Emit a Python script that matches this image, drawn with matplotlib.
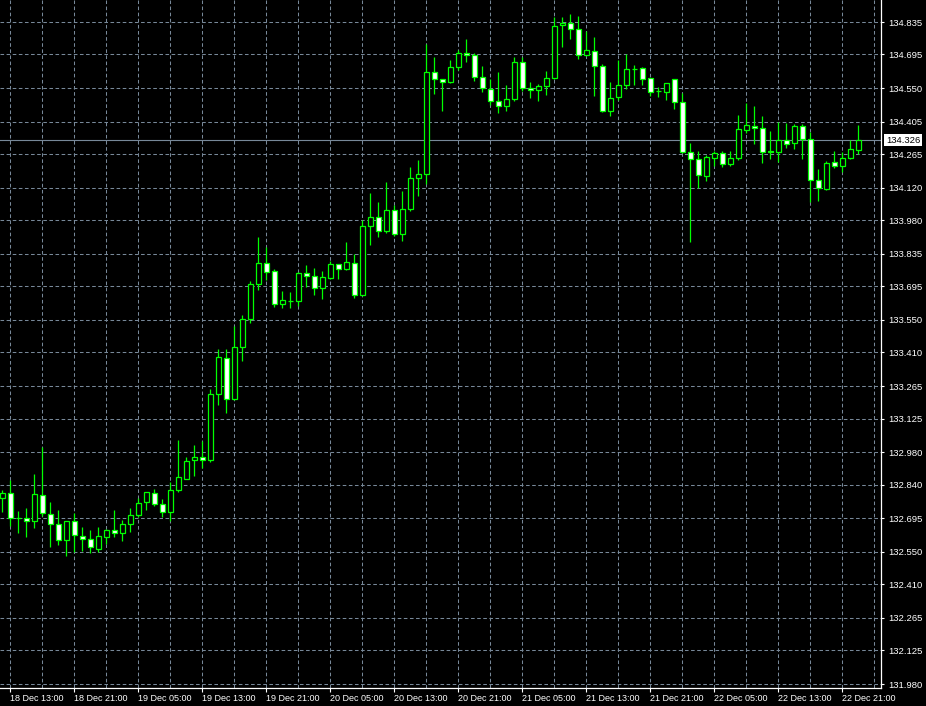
import matplotlib
matplotlib.use("Agg")
import matplotlib.pyplot as plt
import matplotlib.transforms as mtransforms
import numpy as np

plt.rcParams["lines.scale_dashes"] = False

opens = [132.781, 132.803, 132.697, 132.697, 132.683, 132.794, 132.712, 132.669, 132.601, 132.682,
         132.620, 132.604, 132.564, 132.613, 132.643, 132.630, 132.669, 132.708, 132.764, 132.803,
         132.755, 132.721, 132.815, 132.866, 132.945, 132.958, 132.945, 133.229, 133.385, 133.208,
         133.432, 133.553, 133.704, 133.794, 133.760, 133.618, 133.631, 133.631, 133.751, 133.738,
         133.687, 133.730, 133.790, 133.769, 133.794, 133.656, 133.954, 133.993, 133.932, 134.023,
         133.919, 134.027, 134.161, 134.178, 134.618, 134.588, 134.575, 134.640, 134.700, 134.691,
         134.596, 134.545, 134.493, 134.471, 134.502, 134.662, 134.549, 134.540, 134.558, 134.592,
         134.821, 134.829, 134.804, 134.691, 134.709, 134.644, 134.450, 134.510, 134.562, 134.631,
         134.635, 134.592, 134.536, 134.532, 134.588, 134.489, 134.273, 134.243, 134.170, 134.247,
         134.269, 134.221, 134.247, 134.368, 134.385, 134.377, 134.277, 134.276, 134.325, 134.312,
         134.385, 134.329, 134.152, 134.114, 134.230, 134.213, 134.247, 134.282]

highs = [132.817, 132.860, 132.726, 132.738, 132.886, 133.001, 132.765, 132.731, 132.684, 132.719,
         132.656, 132.644, 132.656, 132.647, 132.731, 132.687, 132.739, 132.781, 132.809, 132.820,
         132.777, 132.850, 133.032, 132.958, 133.009, 133.027, 133.251, 133.423, 133.423, 133.523,
         133.570, 133.717, 133.907, 133.865, 133.769, 133.674, 133.669, 133.755, 133.785, 133.776,
         133.760, 133.803, 133.792, 133.885, 133.835, 133.980, 134.096, 134.057, 134.144, 134.045,
         134.105, 134.208, 134.240, 134.739, 134.683, 134.590, 134.670, 134.713, 134.760, 134.700,
         134.645, 134.588, 134.618, 134.562, 134.683, 134.683, 134.575, 134.566, 134.624, 134.855,
         134.855, 134.868, 134.859, 134.795, 134.769, 134.653, 134.575, 134.670, 134.696, 134.648,
         134.640, 134.594, 134.553, 134.572, 134.589, 134.528, 134.312, 134.277, 134.260, 134.277,
         134.277, 134.277, 134.433, 134.484, 134.471, 134.428, 134.364, 134.403, 134.398, 134.394,
         134.394, 134.359, 134.200, 134.234, 134.277, 134.273, 134.325, 134.390]

lows = [132.723, 132.661, 132.630, 132.615, 132.654, 132.705, 132.572, 132.580, 132.533, 132.551,
        132.554, 132.546, 132.551, 132.584, 132.615, 132.598, 132.636, 132.699, 132.729, 132.746,
        132.700, 132.682, 132.808, 132.862, 132.878, 132.910, 132.936, 133.182, 133.147, 133.204,
        133.372, 133.536, 133.678, 133.722, 133.605, 133.600, 133.600, 133.612, 133.693, 133.656,
        133.642, 133.727, 133.725, 133.766, 133.643, 133.653, 133.872, 133.906, 133.924, 133.912,
        133.889, 134.019, 134.083, 134.135, 134.523, 134.452, 134.572, 134.627, 134.661, 134.579,
        134.532, 134.476, 134.441, 134.450, 134.493, 134.536, 134.506, 134.496, 134.519, 134.589,
        134.726, 134.760, 134.674, 134.689, 134.515, 134.446, 134.428, 134.497, 134.545, 134.562,
        134.562, 134.515, 134.510, 134.497, 134.458, 134.268, 133.885, 134.118, 134.148, 134.213,
        134.208, 134.213, 134.239, 134.355, 134.308, 134.226, 134.243, 134.230, 134.290, 134.286,
        134.243, 134.058, 134.064, 134.109, 134.204, 134.187, 134.244, 134.265]

closes = [132.803, 132.695, 132.695, 132.683, 132.800, 132.716, 132.669, 132.601, 132.682, 132.621,
          132.604, 132.570, 132.617, 132.643, 132.630, 132.669, 132.708, 132.759, 132.807, 132.755,
          132.721, 132.815, 132.871, 132.941, 132.958, 132.945, 133.229, 133.389, 133.208, 133.432,
          133.553, 133.704, 133.794, 133.758, 133.618, 133.635, 133.630, 133.751, 133.738, 133.687,
          133.734, 133.790, 133.769, 133.799, 133.656, 133.954, 133.993, 133.932, 134.023, 133.919,
          134.027, 134.161, 134.178, 134.618, 134.588, 134.575, 134.640, 134.700, 134.691, 134.596,
          134.549, 134.493, 134.471, 134.502, 134.662, 134.549, 134.540, 134.558, 134.592, 134.817,
          134.829, 134.804, 134.691, 134.713, 134.644, 134.450, 134.506, 134.562, 134.631, 134.631,
          134.588, 134.532, 134.536, 134.571, 134.489, 134.273, 134.243, 134.174, 134.252, 134.269,
          134.221, 134.247, 134.372, 134.390, 134.377, 134.273, 134.276, 134.325, 134.308, 134.385,
          134.329, 134.152, 134.118, 134.226, 134.213, 134.247, 134.286, 134.326]

x_tick_labels = ["18 Dec 13:00", "18 Dec 21:00", "19 Dec 05:00", "19 Dec 13:00", "19 Dec 21:00",
                 "20 Dec 05:00", "20 Dec 13:00", "20 Dec 21:00", "21 Dec 05:00", "21 Dec 13:00",
                 "21 Dec 21:00", "22 Dec 05:00", "22 Dec 13:00", "22 Dec 21:00"]
y_tick_values = [134.835, 134.695, 134.550, 134.405, 134.265, 134.120, 133.980, 133.835, 133.695,
                 133.550, 133.410, 133.265, 133.125, 132.980, 132.840, 132.695, 132.550, 132.410,
                 132.265, 132.125, 131.980]
current_price = 134.326

BG = "black"
CANDLE = "#00FF00"
GRID = "#778899"

fig = plt.figure(figsize=(9.26, 7.06), dpi=100, facecolor=BG)
ax = fig.add_axes([0.0, 18 / 706, 881 / 926, 688 / 706])
ax.set_facecolor(BG)

o = np.array(opens); h = np.array(highs); l = np.array(lows); c = np.array(closes)
idx = np.arange(len(o))
bear = c < o

# grid
ax.set_xlim(-0.2875, 109.84)
ax.set_ylim(131.9628, 134.9299)
ax.set_yticks(y_tick_values)
ax.set_yticklabels([f"{v:.3f}" for v in y_tick_values])
label_pos = np.arange(1, 1 + 8 * len(x_tick_labels), 8)
ax.set_xticks(label_pos)
ax.set_xticklabels(x_tick_labels)
ax.set_xticks(np.arange(5, 110, 8), minor=True)
ax.grid(True, which="both", axis="x", color=GRID, linestyle=(0, (2.6, 1.8)), linewidth=0.75)
ax.grid(True, which="major", axis="y", color=GRID, linestyle=(0, (2.6, 1.8)), linewidth=0.75)
ax.set_axisbelow(True)

# current price line
ax.axhline(current_price, color=GRID, linewidth=0.8, zorder=1.5)

# candles
ax.vlines(idx, l, h, color=CANDLE, linewidth=0.9, zorder=2)
bottoms = np.minimum(o, c)
heights = np.abs(c - o)
faces = np.where(bear, "white", "black")
ax.bar(idx, heights, bottom=bottoms, width=0.56, color=list(faces), edgecolor=CANDLE,
       linewidth=0.9, zorder=3)

# axes styling
for s in ["top", "left"]:
    ax.spines[s].set_visible(False)
for s in ["right", "bottom"]:
    ax.spines[s].set_color("white")
    ax.spines[s].set_linewidth(0.9)
ax.yaxis.tick_right()
ax.tick_params(axis="y", which="both", colors="white", length=2.5, width=0.8, pad=2.5,
               labelsize=6.8, labelcolor="white")
ax.tick_params(axis="x", which="major", colors="white", length=3, width=0.8, pad=1.5,
               labelsize=6.5, labelcolor="white")
ax.tick_params(axis="x", which="minor", length=0)
for t in ax.get_xticklabels():
    t.set_ha("left")
    t.set_fontfamily("Liberation Sans")
for t in ax.get_yticklabels():
    t.set_fontfamily("Liberation Sans")

# current price label box
trans = mtransforms.blended_transform_factory(ax.transAxes, ax.transData)
ax.annotate(f"{current_price:.3f}", xy=(1.0, current_price), xycoords=trans,
            xytext=(3.5, 0), textcoords="offset points", ha="left", va="center",
            fontsize=6.8, family="Liberation Sans", color="black",
            bbox=dict(boxstyle="square,pad=0.2", fc="white", ec="none"),
            annotation_clip=False, zorder=10)

fig.savefig("out.png", dpi=100, facecolor=BG)
